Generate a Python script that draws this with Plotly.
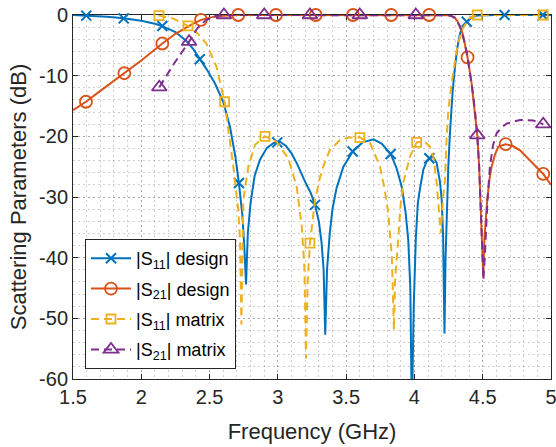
import plotly.graph_objects as go

# ---------------- data ----------------
# |S11| design (continuous curve)
s11_design_f = [1.50, 1.60, 1.75, 1.87, 2.00, 2.10, 2.15, 2.25, 2.33, 2.38, 2.43, 2.48, 2.54, 2.60,
                2.65, 2.69, 2.715, 2.74, 2.755, 2.767, 2.78, 2.80, 2.83, 2.87, 2.92, 2.97, 3.016,
                3.06, 3.10, 3.14, 3.20, 3.24, 3.272, 3.30, 3.32, 3.335, 3.347, 3.36, 3.38, 3.40,
                3.43, 3.48, 3.548, 3.62, 3.70, 3.76, 3.826, 3.87, 3.907, 3.935, 3.955, 3.97, 3.981,
                3.995, 4.01, 4.025, 4.04, 4.065, 4.09, 4.114, 4.138, 4.163, 4.187, 4.20, 4.21,
                4.216, 4.22, 4.228, 4.236, 4.248, 4.26, 4.28, 4.297, 4.315, 4.334, 4.36, 4.383,
                4.42, 4.46, 4.60, 5.00]
s11_design_db = [0.0, -0.1, -0.3, -0.55, -0.95, -1.45, -1.8, -2.8, -4.3, -5.6, -7.3, -9.0, -11.3, -14.3,
                 -18.5, -23.5, -27.7, -33.0, -38.5, -44.4, -36.0, -31.0, -26.5, -23.8, -21.9, -21.1, -20.9,
                 -21.6, -22.8, -24.5, -27.5, -29.3, -31.3, -34.0, -37.5, -42.0, -52.7, -42.0, -36.0, -32.0,
                 -28.5, -25.0, -22.5, -21.0, -20.5, -21.2, -22.9, -25.3, -28.3, -32.5, -37.1, -45.0, -66.0,
                 -48.0, -37.0, -31.0, -28.7, -25.5, -24.1, -23.6, -23.4, -24.4, -27.5, -30.5, -36.5,
                 -43.0, -52.5, -40.0, -33.0, -25.0, -19.5, -12.5, -8.5, -5.3, -3.0, -1.8, -1.1,
                 -0.4, -0.1, 0.0, 0.0]
s11_design_mk_f = [1.597, 1.871, 2.154, 2.428, 2.715, 2.996, 3.272, 3.548, 3.826, 4.109, 4.383, 4.66, 4.94]
s11_design_mk_db = [-0.1, -0.55, -1.8, -7.3, -27.7, -21.0, -31.3, -22.5, -22.9, -23.6, -1.1, 0.0, 0.0]

# |S21| design
s21_design_f = [1.50, 1.595, 1.70, 1.876, 2.00, 2.154, 2.25, 2.35, 2.437, 2.52, 2.60, 2.71, 3.00,
                3.50, 4.00, 4.25, 4.275, 4.297, 4.315, 4.334, 4.355, 4.37, 4.389, 4.419, 4.443,
                4.46, 4.474, 4.492, 4.504, 4.512, 4.522, 4.533, 4.55, 4.565, 4.59, 4.614, 4.668,
                4.72, 4.773, 4.85, 4.943, 5.00]
s21_design_db = [-15.7, -14.3, -12.5, -9.6, -7.5, -4.7, -3.1, -1.8, -0.8, -0.35, -0.12, 0.0, 0.0,
                 0.0, 0.0, -0.05, -0.2, -0.5, -1.0, -1.9, -3.2, -4.7, -7.0, -11.3, -15.7,
                 -19.8, -25.0, -36.0, -43.1, -37.0, -33.0, -30.5, -27.0, -25.0, -23.0, -21.7, -21.3,
                 -21.6, -22.3, -24.0, -26.2, -28.0]
s21_design_mk_f = [1.595, 1.876, 2.154, 2.437, 2.71, 2.986, 3.277, 3.55, 3.83, 4.108, 4.389, 4.668, 4.943]
s21_design_mk_db = [-14.3, -9.6, -4.7, -0.8, 0.0, 0.0, 0.0, 0.0, 0.0, 0.0, -7.0, -21.3, -26.2]

# |S11| matrix
s11_matrix_f = [2.125, 2.23, 2.342, 2.41, 2.476, 2.55, 2.61, 2.674, 2.71, 2.723, 2.733, 2.747, 2.784,
                2.833, 2.906, 2.99, 3.076, 3.138, 3.175, 3.195, 3.206, 3.218, 3.235, 3.272, 3.308,
                3.34, 3.38, 3.455, 3.52, 3.601, 3.675, 3.748, 3.78, 3.809, 3.835, 3.85, 3.858, 3.88,
                3.90, 3.918, 3.968, 4.016, 4.07, 4.114, 4.14, 4.163, 4.178, 4.193, 4.21, 4.224,
                4.235, 4.248, 4.272, 4.31, 4.346, 4.40, 4.46, 4.70, 4.943]
s11_matrix_db = [-0.1, -0.55, -1.8, -3.0, -4.7, -8.5, -14.3, -25.0, -32.1, -37.0, -51.0, -30.5, -25.0,
                 -21.4, -20.0, -20.9, -23.6, -28.3, -34.9, -42.0, -56.6, -44.0, -37.6, -30.5, -26.8,
                 -24.5, -22.3, -20.6, -20.2, -20.2, -21.1, -25.0, -28.5, -32.7, -40.0, -51.9, -44.0, -37.0,
                 -31.0, -27.7, -23.3, -21.0, -20.8, -21.7, -23.5, -27.7, -31.5, -36.0, -30.0, -27.0,
                 -20.6, -15.7, -11.3, -5.8, -2.5, -0.6, 0.0, 0.0, 0.0]
s11_matrix_mk_f = [2.13, 2.342, 2.61, 2.906, 3.235, 3.601, 4.016, 4.46, 4.943]
s11_matrix_mk_db = [-0.1, -1.8, -14.3, -20.0, -37.6, -20.2, -21.0, 0.0, 0.0]

# |S21| matrix
s21_matrix_f = [2.132, 2.24, 2.35, 2.41, 2.476, 2.55, 2.605, 3.00, 3.50, 4.00, 4.25, 4.275, 4.297,
                4.334, 4.37, 4.389, 4.419, 4.443, 4.46, 4.474, 4.492, 4.505, 4.515, 4.523, 4.535,
                4.553, 4.575, 4.602, 4.64, 4.675, 4.773, 4.87, 4.943]
s21_matrix_db = [-11.9, -8.0, -4.4, -2.2, -0.8, -0.1, 0.0, 0.0, 0.0, 0.0, -0.05, -0.2, -0.5,
                 -1.9, -4.7, -7.0, -11.3, -15.7, -19.8, -25.0, -36.0, -43.6, -40.0, -36.0, -30.5,
                 -25.0, -21.5, -19.5, -18.5, -17.9, -17.3, -17.4, -18.0]
s21_matrix_mk_f = [2.132, 2.35, 2.605, 2.90, 3.235, 3.60, 4.01, 4.46, 4.943]
s21_matrix_mk_db = [-11.9, -4.4, 0.0, 0.0, 0.0, 0.0, 0.0, -19.8, -18.0]

legend_names = ["|S<sub>11</sub>| design", "|S<sub>21</sub>| design",
                "|S<sub>11</sub>| matrix", "|S<sub>21</sub>| matrix"]

x_ticks = [1.5, 2, 2.5, 3, 3.5, 4, 4.5, 5]
x_tick_labels = ["1.5", "2", "2.5", "3", "3.5", "4", "4.5", "5"]
y_ticks = [-60, -50, -40, -30, -20, -10, 0]
y_tick_labels = ["-60", "-50", "-40", "-30", "-20", "-10", "0"]

# ---------------- styling ----------------
BLUE = "#0072BD"
ORANGE = "#D95319"
YELLOW = "#EDB120"
PURPLE = "#7E2F8E"
AXC = "#262626"
FONT = "Liberation Sans, Arial, Helvetica, sans-serif"
DASH = "8px,5px"
LW = 2

series = [
    (s11_design_f, s11_design_db, s11_design_mk_f, s11_design_mk_db, BLUE, "solid", "x-thin", 10, True),
    (s21_design_f, s21_design_db, s21_design_mk_f, s21_design_mk_db, ORANGE, "solid", "circle-open", 12, False),
    (s11_matrix_f, s11_matrix_db, s11_matrix_mk_f, s11_matrix_mk_db, YELLOW, DASH, "square-open", 9, False),
    (s21_matrix_f, s21_matrix_db, s21_matrix_mk_f, s21_matrix_mk_db, PURPLE, DASH, "triangle-up-open", 13, False),
]

fig = go.Figure()

for (f, db, mf, mdb, col, dash, sym, msz, clip), name in zip(series, legend_names):
    fig.add_trace(go.Scatter(x=f, y=db, mode="lines", line=dict(color=col, width=LW, dash=dash),
                             showlegend=False, cliponaxis=clip, hoverinfo="skip"))
    fig.add_trace(go.Scatter(x=mf, y=mdb, mode="markers",
                             marker=dict(symbol=sym, size=msz, color=col,
                                         line=dict(color=col, width=2.0 if sym == "x-thin" else 1.8)),
                             showlegend=False, cliponaxis=False))

for i, ((f, db, mf, mdb, col, dash, sym, msz, clip), name) in enumerate(zip(series, legend_names)):
    fig.add_trace(go.Scatter(x=[None], y=[None], mode="lines+markers", name=name,
                             legendgroup="g%d" % i,
                             line=dict(color=col, width=LW, dash=dash),
                             marker=dict(symbol=sym, size=msz, color=col,
                                         line=dict(color=col, width=2.0 if sym == "x-thin" else 1.8))))

grid_col = "rgba(38,38,38,0.22)"
fig.update_layout(
    width=556, height=447,
    margin=dict(l=73, r=5, t=15, b=68),
    paper_bgcolor="white", plot_bgcolor="white",
    font=dict(family=FONT, size=20, color=AXC),
    showlegend=True,
    legend=dict(x=0.0251, y=0.3846, xanchor="left", yanchor="top",
                bgcolor="white", bordercolor=AXC, borderwidth=1,
                font=dict(family=FONT, size=18, color="black"),
                itemwidth=40, traceorder="grouped", tracegroupgap=4),
    xaxis=dict(range=[1.5, 5], tickvals=x_ticks, ticktext=x_tick_labels,
               showline=True, linecolor=AXC, linewidth=1, mirror="ticks",
               ticks="inside", ticklen=5, tickcolor=AXC, tickwidth=1,
               showgrid=True, gridcolor=grid_col, griddash="2px,3px", gridwidth=1,
               zeroline=False, layer="below traces", ticklabeloverflow="allow", automargin=False,
               minor=dict(dtick=0.1, showgrid=True, gridcolor=grid_col, griddash="2px,3px", ticks=""),
               title=dict(text="Frequency (GHz)", font=dict(size=22, color=AXC), standoff=16),
               tickfont=dict(size=20, color=AXC)),
    yaxis=dict(range=[-60, 0], tickvals=y_ticks, ticktext=y_tick_labels,
               showline=True, linecolor=AXC, linewidth=1, mirror="ticks",
               ticks="inside", ticklen=5, tickcolor=AXC, tickwidth=1,
               showgrid=True, gridcolor=grid_col, griddash="2px,3px", gridwidth=1,
               zeroline=False, layer="below traces", automargin=False,
               minor=dict(dtick=2, showgrid=True, gridcolor=grid_col, griddash="2px,3px", ticks=""),
               title=dict(text="Scattering Parameters (dB)", font=dict(size=22, color=AXC), standoff=6),
               tickfont=dict(size=20, color=AXC)),
)

fig.write_html("out.html")
